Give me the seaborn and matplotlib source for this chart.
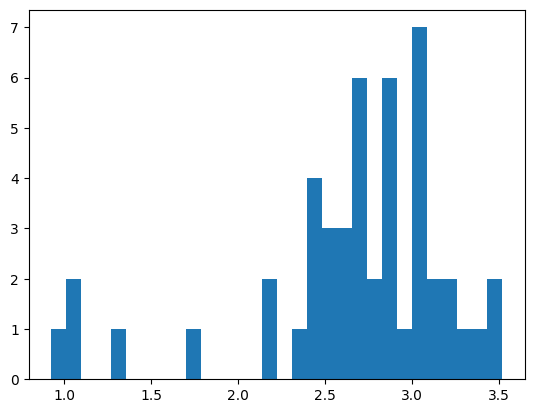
import numpy as np
import matplotlib
matplotlib.use('Agg')
import matplotlib.pyplot as plt
import seaborn as sns

# Histogram: 30 equal bins between these edges
bin_lo = 0.924
bin_hi = 3.520
bin_counts = [1, 2, 0, 0, 1, 0, 0, 0, 0, 1,
              0, 0, 0, 0, 2, 0, 1, 4, 3, 3,
              6, 2, 6, 1, 7, 2, 2, 1, 1, 2]

n_bins = len(bin_counts)
edges = np.linspace(bin_lo, bin_hi, n_bins + 1)
centers = (edges[:-1] + edges[1:]) / 2

fig, ax = plt.subplots(figsize=(6.4, 4.8), dpi=100)
sns.histplot(x=centers, weights=bin_counts, bins=n_bins, binrange=(bin_lo, bin_hi),
             color='#1f77b4', alpha=1, linewidth=0, ax=ax)
ax.set_ylabel('')

plt.savefig('out.png', dpi=100, bbox_inches='tight')
plt.close()
